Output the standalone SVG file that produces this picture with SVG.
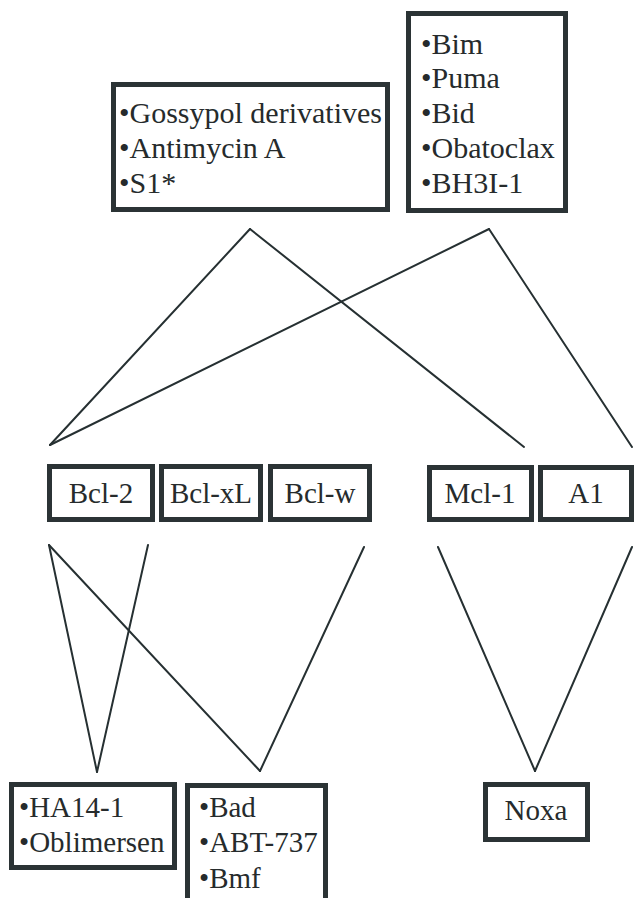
<svg xmlns="http://www.w3.org/2000/svg" width="635" height="898" viewBox="0 0 635 898">
<defs>
<style>
.box{fill:#ffffff;stroke:#2b3335;stroke-width:5}
.t{font-family:'Liberation Serif','DejaVu Serif',serif;font-size:30px;fill:#262b2c}
.s{font-size:29px}
.c{text-anchor:middle;font-size:29px}
.ln{stroke:#263032;stroke-width:2;fill:none;stroke-linecap:round}
</style>
</defs>
<rect width="635" height="898" fill="#ffffff"/>
<g id="connectors">
<line class="ln" x1="250" y1="229" x2="50" y2="445"/>
<line class="ln" x1="250" y1="229" x2="524" y2="447"/>
<line class="ln" x1="489" y1="229" x2="50" y2="445"/>
<line class="ln" x1="489" y1="229" x2="632" y2="447"/>
<line class="ln" x1="49" y1="545" x2="97" y2="772"/>
<line class="ln" x1="148" y1="545" x2="97" y2="772"/>
<line class="ln" x1="49" y1="545" x2="260" y2="771"/>
<line class="ln" x1="364" y1="547" x2="260" y2="771"/>
<line class="ln" x1="438" y1="547" x2="535" y2="771"/>
<line class="ln" x1="632" y1="547" x2="535" y2="771"/>
</g>
<g id="gossypol">
<rect class="box" x="113.5" y="84.5" width="274" height="125"/>
<text class="t" x="119" y="123">•Gossypol derivatives</text>
<text class="t" x="119" y="158">•Antimycin A</text>
<text class="t" x="119" y="193">•S1*</text>
</g>
<g id="bim">
<rect class="box" x="408.5" y="13.5" width="157" height="197"/>
<text class="t" x="421" y="54">•Bim</text>
<text class="t" x="421" y="88">•Puma</text>
<text class="t" x="421" y="123">•Bid</text>
<text class="t" x="421" y="158">•Obatoclax</text>
<text class="t" x="421" y="193">•BH3I-1</text>
</g>
<g id="bcl2">
<rect class="box" x="49.5" y="466.5" width="103" height="53"/>
<text class="t c" x="101" y="503">Bcl-2</text>
</g>
<g id="bclxl">
<rect class="box" x="161.5" y="466.5" width="99" height="53"/>
<text class="t c" x="211" y="503">Bcl-xL</text>
</g>
<g id="bclw">
<rect class="box" x="270.5" y="466.5" width="99" height="53"/>
<text class="t c" x="320" y="503">Bcl-w</text>
</g>
<g id="mcl1">
<rect class="box" x="429.5" y="467.5" width="102" height="52"/>
<text class="t c" x="480" y="503">Mcl-1</text>
</g>
<g id="a1">
<rect class="box" x="540.5" y="467.5" width="91" height="52"/>
<text class="t c" x="586" y="503">A1</text>
</g>
<g id="ha14">
<rect class="box" x="11.5" y="784.5" width="163" height="83"/>
<text class="t s" x="19" y="817">•HA14-1</text>
<text class="t s" x="19" y="852">•Oblimersen</text>
</g>
<g id="bad">
<rect class="box" x="187.5" y="785.5" width="138" height="120"/>
<text class="t s" x="199" y="817">•Bad</text>
<text class="t s" x="199" y="852">•ABT-737</text>
<text class="t s" x="199" y="888">•Bmf</text>
</g>
<g id="noxa">
<rect class="box" x="485.5" y="784.5" width="102" height="55"/>
<text class="t c" x="536" y="820">Noxa</text>
</g>
</svg>
